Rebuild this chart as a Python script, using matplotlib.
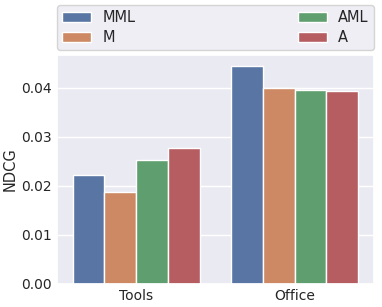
import matplotlib
matplotlib.use("Agg")
import matplotlib.pyplot as plt
import seaborn as sns
import pandas as pd

sns.set_theme(style="darkgrid")

categories = ["Tools", "Office"]
methods = ["MML", "M", "AML", "A"]
tools_ndcg = [0.0222, 0.0188, 0.0252, 0.0278]
office_ndcg = [0.0445, 0.0400, 0.0396, 0.0393]

df = pd.DataFrame({
    "category": [categories[0]] * 4 + [categories[1]] * 4,
    "method": methods * 2,
    "NDCG": tools_ndcg + office_ndcg,
})

fig = plt.figure(figsize=(3.82, 3.07), dpi=100)
ax = fig.add_axes([0.149, 0.075, 0.830, 0.746])
sns.barplot(data=df, x="category", y="NDCG", hue="method", hue_order=methods,
            order=categories, ax=ax, saturation=0.75)
ax.set_xlabel("")
ax.set_ylabel("NDCG", fontsize=10.5, labelpad=3)
ax.tick_params(labelsize=10, pad=3.5, length=0)
ax.set_yticks([0.0, 0.01, 0.02, 0.03, 0.04])
ax.set_yticklabels(["0.00", "0.01", "0.02", "0.03", "0.04"])
ax.legend(bbox_to_anchor=(0, 1.02, 1, 0.2), loc="lower left", ncol=2,
          mode="expand", borderaxespad=0, fontsize=10.5,
          labelspacing=0.35, borderpad=0.35)

fig.savefig("out.png", dpi=100)
